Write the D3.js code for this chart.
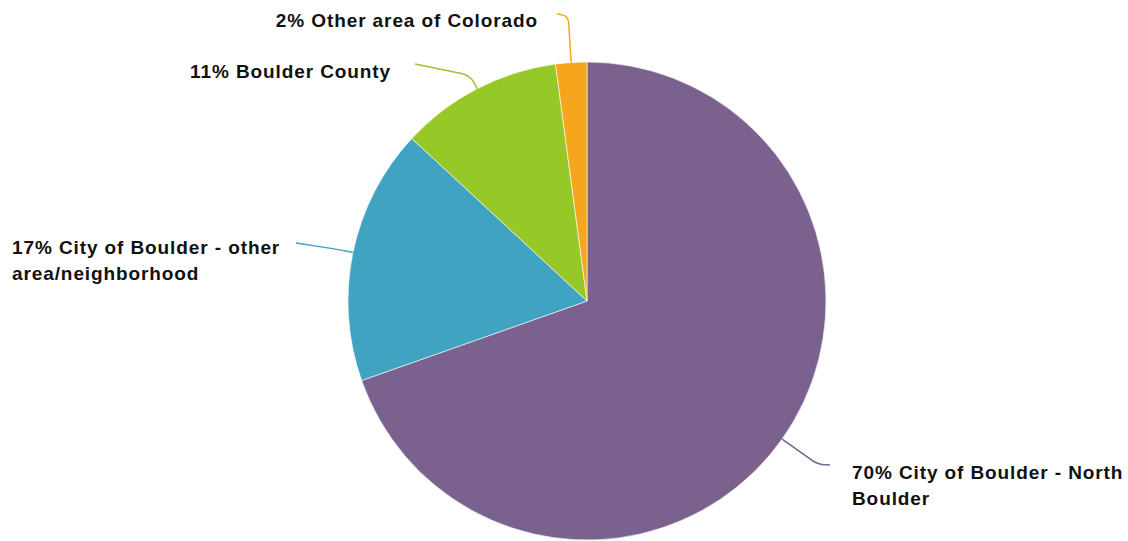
<!DOCTYPE html>
<html><head><meta charset="utf-8">
<script src="https://cdn.jsdelivr.net/npm/d3@7"></script>
<style>body{margin:0;background:#fff}svg{display:block}</style>
</head><body>
<svg id="c" width="1128" height="541"></svg>
<script>
const categories = ["City of Boulder - North Boulder","City of Boulder - other area/neighborhood","Boulder County","Other area of Colorado"];
const values = [69.6, 17.3, 11.0, 2.1];
const pctLabels = ["70%","17%","11%","2%"];
const colors = ["#7B618E","#40A3C2","#96C827","#F6A61C"];
const labelLines = [["70% City of Boulder - North","Boulder"],["17% City of Boulder - other","area/neighborhood"],["11% Boulder County"],["2% Other area of Colorado"]];
// layout: [text x, first line center y, leader end x, leader end y, anchor, corner radial extension]
const labelPos = [[852,472,830,465,"start",44],[12,247,296,243,"start",15],[391,71,415,64,"end",15],[538,20,557,14,"end",47]];

const svg = d3.select("#c");
const cx = 587, cy = 301, R = 239;
const pie = d3.pie().sort(null).value(d=>d);
const arcs = pie(values);
const arc = d3.arc().innerRadius(0).outerRadius(R);
const g = svg.append("g").attr("transform",`translate(${cx},${cy})`);
g.selectAll("path.s").data(arcs).join("path").attr("class","s")
 .attr("d",arc).attr("fill",(d,i)=>colors[i]).attr("stroke","#fff").attr("stroke-width",0.6);

arcs.forEach((a,i)=>{
  const m = (a.startAngle+a.endAngle)/2;
  const dir = [Math.sin(m), -Math.cos(m)];
  const lp = labelPos[i];
  const p0 = [dir[0]*R, dir[1]*R];
  const c = [dir[0]*(R+lp[5]), dir[1]*(R+lp[5])];
  const end = [lp[2]-cx, lp[3]-cy];
  const l1 = Math.hypot(c[0]-p0[0], c[1]-p0[1]);
  const l2 = Math.hypot(end[0]-c[0], end[1]-c[1]);
  const r = Math.min(12, l1*0.6, l2*0.6);
  const A = [c[0]+(p0[0]-c[0])*r/l1, c[1]+(p0[1]-c[1])*r/l1];
  const B = [c[0]+(end[0]-c[0])*r/l2, c[1]+(end[1]-c[1])*r/l2];
  const p = d3.path();
  p.moveTo(p0[0],p0[1]); p.lineTo(A[0],A[1]); p.quadraticCurveTo(c[0],c[1],B[0],B[1]); p.lineTo(end[0],end[1]);
  g.append("path").attr("d", p.toString()).attr("fill","none")
   .attr("stroke",colors[i]).attr("stroke-width",1.5);
  const t = svg.append("text").attr("x",lp[0]).attr("y",lp[1]).attr("text-anchor",lp[4])
   .attr("font-family","Liberation Sans, Arial, sans-serif").attr("font-weight","bold")
   .attr("font-size",19).attr("letter-spacing",0.9).attr("fill","#111").attr("dominant-baseline","central");
  labelLines[i].forEach((s,j)=>t.append("tspan").attr("x",lp[0]).attr("dy", j===0?0:26).text(s));
});
</script>
</body></html>
